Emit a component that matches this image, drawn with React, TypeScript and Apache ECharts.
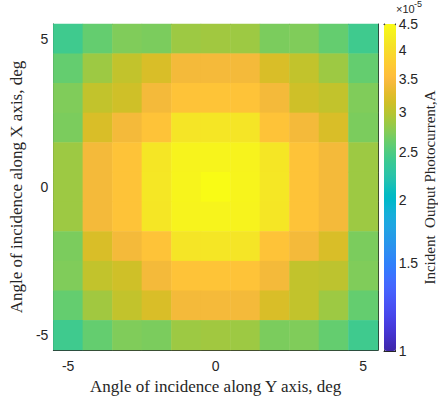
import React, { useEffect, useRef } from "react";
import * as echarts from "echarts";

// Incidence angles (deg) along Y (columns) and X (rows)
const angleLabels = ["-5", "-4", "-3", "-2", "-1", "0", "1", "2", "3", "4", "5"];
const labelledAngles = ["-5", "0", "5"];

// Output photocurrent in units of 1e-5 A, one array per X angle (from +5 down to -5),
// each listing the Y angles from -5 to +5
const xPlus5 = [2.42, 2.6, 2.72, 2.7, 2.86, 2.88, 2.86, 2.7, 2.72, 2.6, 2.42];
const xPlus4 = [2.6, 2.86, 3.05, 3.2, 3.42, 3.43, 3.42, 3.2, 3.05, 2.86, 2.6];
const xPlus3 = [2.72, 3.05, 3.13, 3.42, 3.63, 3.65, 3.63, 3.42, 3.13, 3.05, 2.72];
const xPlus2 = [2.7, 3.2, 3.42, 3.63, 4.12, 4.14, 4.12, 3.63, 3.42, 3.2, 2.7];
const xPlus1 = [2.86, 3.42, 3.63, 4.14, 4.36, 4.38, 4.36, 4.14, 3.63, 3.42, 2.86];
const xZero = [2.86, 3.42, 3.63, 4.16, 4.38, 4.5, 4.38, 4.16, 3.63, 3.42, 2.86];
const xMinus1 = [2.86, 3.42, 3.63, 4.14, 4.36, 4.38, 4.36, 4.14, 3.63, 3.42, 2.86];
const xMinus2 = [2.7, 3.2, 3.42, 3.63, 4.12, 4.14, 4.12, 3.63, 3.42, 3.2, 2.7];
const xMinus3 = [2.72, 3.05, 3.13, 3.42, 3.63, 3.65, 3.63, 3.42, 3.05, 3.02, 2.72];
const xMinus4 = [2.6, 2.88, 3.05, 3.2, 3.42, 3.43, 3.42, 3.2, 3.05, 2.86, 2.6];
const xMinus5 = [2.42, 2.6, 2.72, 2.7, 2.86, 2.88, 2.86, 2.7, 2.72, 2.6, 2.42];

// Colour bar limits and ticks (log scale, units of 1e-5 A)
const cbarMin = 1;
const cbarMax = 4.5;
const cbarLabels = [1, 1.5, 2, 2.5, 3, 3.5, 4, 4.5];
const cbarMinorTicks = [
  1, 1.1, 1.2, 1.3, 1.4, 1.5, 1.6, 1.7, 1.8, 1.9, 2, 2.1, 2.2, 2.3, 2.4, 2.5, 2.6, 2.7,
  2.8, 2.9, 3, 3.1, 3.2, 3.3, 3.4, 3.5, 3.6, 3.7, 3.8, 3.9, 4, 4.1, 4.2, 4.3, 4.4, 4.5,
];

// parula colormap (64 entries)
const parulaRGB = [
  [0.2422, 0.1504, 0.6603], [0.2504, 0.165, 0.7076], [0.2578, 0.1818, 0.7511], [0.2647, 0.1978, 0.7952],
  [0.2706, 0.2147, 0.8364], [0.2751, 0.2342, 0.871], [0.2783, 0.2559, 0.8991], [0.2803, 0.2782, 0.9221],
  [0.2813, 0.3006, 0.9414], [0.281, 0.3228, 0.9579], [0.2795, 0.3447, 0.9717], [0.276, 0.3667, 0.9829],
  [0.2699, 0.3892, 0.9906], [0.2602, 0.4123, 0.9952], [0.244, 0.4358, 0.9988], [0.2206, 0.4603, 0.9973],
  [0.1963, 0.4847, 0.9892], [0.1834, 0.5074, 0.9798], [0.1786, 0.5289, 0.9682], [0.1764, 0.5499, 0.952],
  [0.1687, 0.5703, 0.9359], [0.154, 0.5902, 0.9218], [0.146, 0.6091, 0.9079], [0.138, 0.6276, 0.8973],
  [0.1248, 0.6459, 0.8883], [0.1113, 0.6635, 0.8763], [0.0952, 0.6798, 0.8598], [0.0689, 0.6948, 0.8394],
  [0.0297, 0.7082, 0.8163], [0.0036, 0.7203, 0.7917], [0.0067, 0.7312, 0.766], [0.0433, 0.7411, 0.7394],
  [0.0964, 0.75, 0.712], [0.1408, 0.7584, 0.6842], [0.1717, 0.767, 0.6554], [0.1938, 0.7758, 0.6251],
  [0.2161, 0.7843, 0.5923], [0.247, 0.7918, 0.5567], [0.2906, 0.7973, 0.5188], [0.3406, 0.8008, 0.4789],
  [0.3909, 0.8029, 0.4354], [0.4456, 0.8024, 0.3909], [0.5044, 0.7993, 0.348], [0.5616, 0.7942, 0.3045],
  [0.6174, 0.7876, 0.2612], [0.672, 0.7793, 0.2227], [0.7242, 0.7698, 0.191], [0.7738, 0.7598, 0.1646],
  [0.8203, 0.7498, 0.1535], [0.8634, 0.7406, 0.1596], [0.9035, 0.733, 0.1774], [0.9393, 0.7288, 0.21],
  [0.9728, 0.7298, 0.2394], [0.9956, 0.7434, 0.2371], [0.997, 0.7659, 0.2199], [0.9952, 0.7893, 0.2028],
  [0.9892, 0.8136, 0.1885], [0.9786, 0.8386, 0.1766], [0.9676, 0.8639, 0.1643], [0.961, 0.889, 0.1537],
  [0.9597, 0.9135, 0.1423], [0.9628, 0.9373, 0.1265], [0.9691, 0.9606, 0.1064], [0.9769, 0.9839, 0.0805],
];
const parula = parulaRGB.map(
  ([r, g, b]) => `rgb(${Math.round(r * 255)},${Math.round(g * 255)},${Math.round(b * 255)})`
);

const AXIS_COLOR = "#262626";
const SANS = "'Liberation Sans', Arial, sans-serif";
const SERIF = "'Liberation Serif', 'DejaVu Serif', serif";

export default function App() {
  const ref = useRef<HTMLDivElement>(null);

  useEffect(() => {
    if (!ref.current) return;
    const chart = echarts.init(ref.current, undefined, { renderer: "svg" });

    const rowsTopDown = [xPlus5, xPlus4, xPlus3, xPlus2, xPlus1, xZero, xMinus1, xMinus2, xMinus3, xMinus4, xMinus5];
    const data: number[][] = [];
    rowsTopDown.forEach((row, r) => {
      const yIdx = angleLabels.length - 1 - r;
      row.forEach((v, xIdx) => {
        data.push([xIdx, yIdx, v, Math.log10(v)]);
      });
    });

    const showAngle = (_: number, value: string) => labelledAngles.includes(value);
    const boxLine = { show: true, onZero: false, lineStyle: { color: AXIS_COLOR, width: 1 } };
    const angleTick = { show: true, inside: true, alignWithLabel: true, length: 4, interval: showAngle, lineStyle: { color: AXIS_COLOR } };
    const titleStyle = { fontFamily: SERIF, fontSize: 17, color: AXIS_COLOR };

    chart.setOption({
      animation: false,
      backgroundColor: "#ffffff",
      grid: [
        { left: 52, top: 24, width: 326, height: 326 },
        { left: 384, top: 24, width: 12, height: 327 },
      ],
      xAxis: [
        {
          gridIndex: 0, type: "category", data: angleLabels, position: "bottom",
          axisLine: boxLine, axisTick: angleTick,
          axisLabel: { interval: showAngle, color: AXIS_COLOR, fontFamily: SANS, fontSize: 14, margin: 9 },
          splitLine: { show: false },
          name: "Angle of incidence along Y axis, deg", nameLocation: "middle", nameGap: 24,
          nameTextStyle: titleStyle,
        },
        {
          gridIndex: 0, type: "category", data: angleLabels, position: "top",
          axisLine: boxLine, axisTick: angleTick, axisLabel: { show: false }, splitLine: { show: false },
        },
        {
          gridIndex: 1, type: "value", min: 0, max: 1, position: "bottom",
          axisLine: boxLine, axisTick: { show: false }, axisLabel: { show: false }, splitLine: { show: false },
        },
        {
          gridIndex: 1, type: "value", min: 0, max: 1, position: "top",
          axisLine: boxLine, axisTick: { show: false }, axisLabel: { show: false }, splitLine: { show: false },
        },
      ],
      yAxis: [
        {
          gridIndex: 0, type: "category", data: angleLabels, position: "left",
          axisLine: boxLine, axisTick: angleTick,
          axisLabel: { interval: showAngle, color: AXIS_COLOR, fontFamily: SANS, fontSize: 14, margin: 5 },
          splitLine: { show: false },
          name: "Angle of incidence along X axis, deg", nameLocation: "middle", nameGap: 24, nameRotate: 90,
          nameTextStyle: titleStyle,
        },
        {
          gridIndex: 0, type: "category", data: angleLabels, position: "right",
          axisLine: boxLine, axisTick: angleTick, axisLabel: { show: false }, splitLine: { show: false },
        },
        {
          gridIndex: 1, type: "log", logBase: 10, min: cbarMin, max: cbarMax, position: "right",
          axisLine: boxLine,
          axisTick: { show: true, inside: true, length: 3, customValues: cbarMinorTicks, lineStyle: { color: AXIS_COLOR } },
          axisLabel: {
            customValues: cbarLabels, color: AXIS_COLOR, fontFamily: SANS, fontSize: 14, margin: 3,
            formatter: (v: number) => String(Math.round(v * 10) / 10),
          },
          splitLine: { show: false },
          name: "Incident  Output Photocurrent,A", nameLocation: "middle", nameGap: 23, nameRotate: 90,
          nameTextStyle: { fontFamily: SERIF, fontSize: 15, color: AXIS_COLOR },
        },
        {
          gridIndex: 1, type: "value", min: 0, max: 1, position: "left",
          axisLine: boxLine, axisTick: { show: false }, axisLabel: { show: false }, splitLine: { show: false },
        },
      ],
      visualMap: {
        type: "continuous", seriesIndex: 0, dimension: 3,
        min: Math.log10(cbarMin), max: Math.log10(cbarMax),
        inRange: { color: parula },
        orient: "vertical", left: 384, top: 24, itemWidth: 12, itemHeight: 327,
        padding: 0, calculable: false, hoverLink: false, text: null,
      },
      graphic: [
        {
          type: "text", left: 396, top: 3,
          style: { text: "×10", fontFamily: SANS, fontSize: 11, fill: AXIS_COLOR },
        },
        {
          type: "text", left: 414, top: -1,
          style: { text: "-5", fontFamily: SANS, fontSize: 9, fill: AXIS_COLOR },
        },
      ],
      series: [
        {
          type: "heatmap", xAxisIndex: 0, yAxisIndex: 0, data,
          itemStyle: { borderWidth: 0 },
          emphasis: { disabled: true },
          progressive: 0,
        },
      ],
    });

    return () => chart.dispose();
  }, []);

  return <div ref={ref} style={{ width: 438, height: 403, position: "absolute", left: 0, top: 0 }} />;
}
